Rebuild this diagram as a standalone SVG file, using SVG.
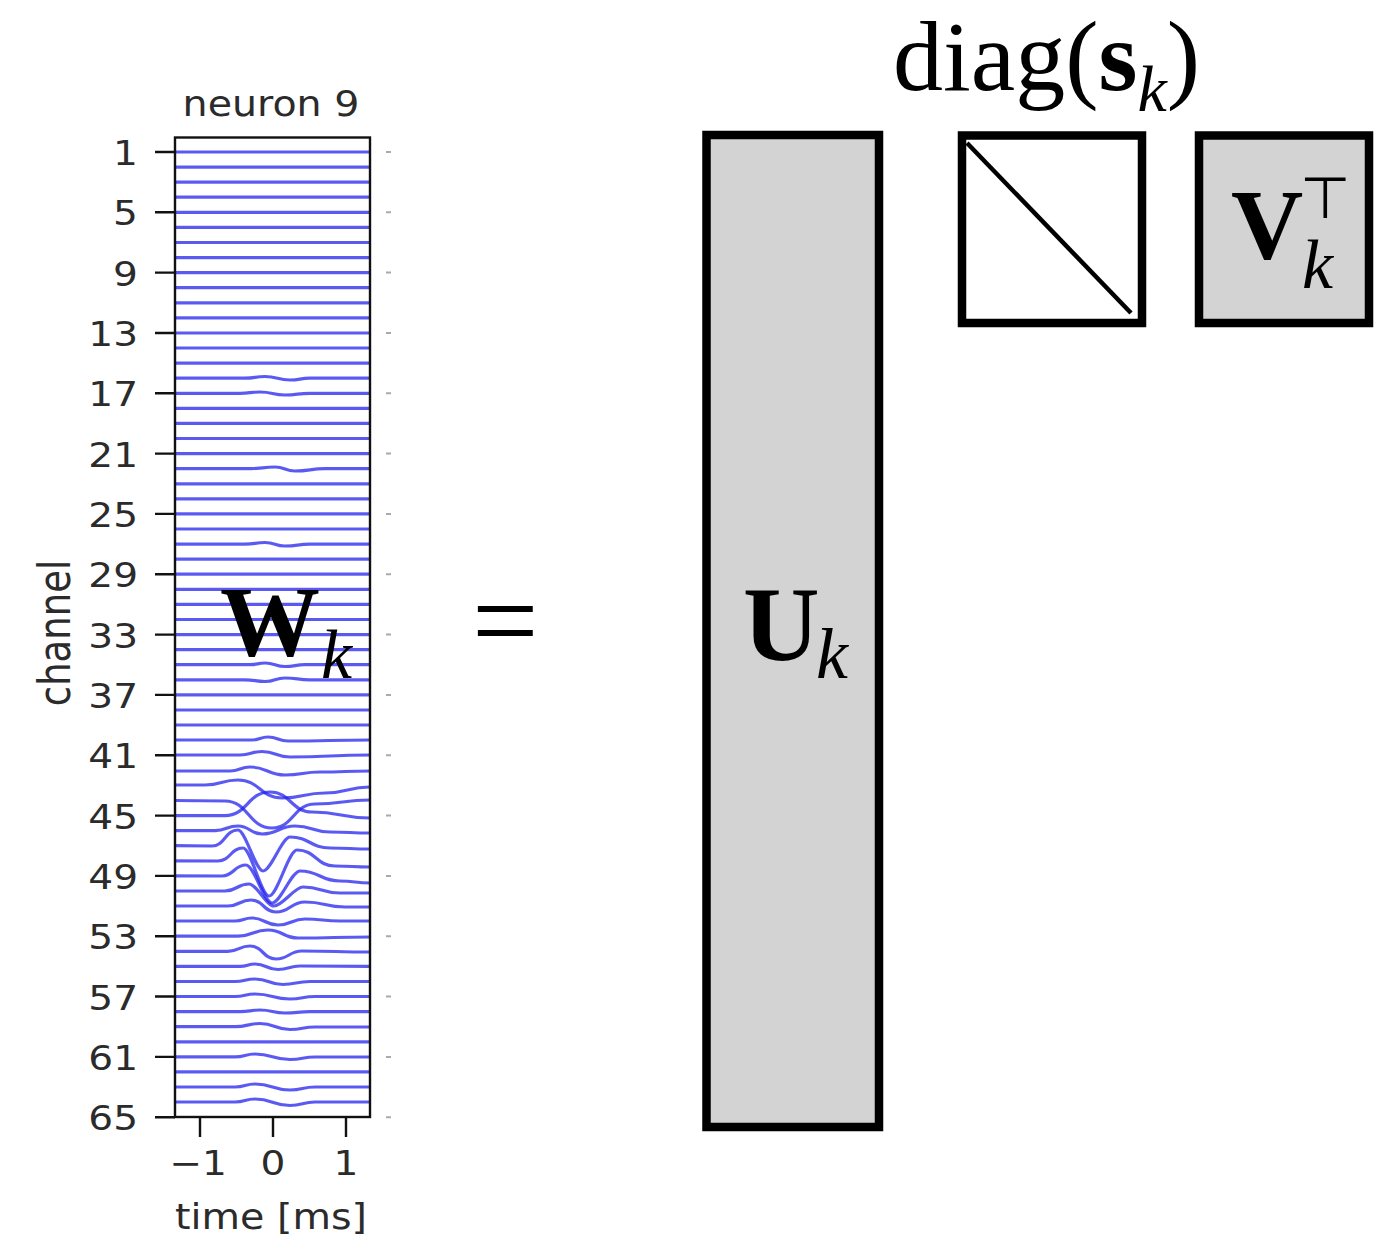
<svg xmlns="http://www.w3.org/2000/svg" width="1384" height="1238" viewBox="0 0 1384 1238">
<defs>
<filter id="soft" x="-5%" y="-5%" width="110%" height="110%"><feGaussianBlur stdDeviation="0.7"/></filter>
</defs>
<style>
.tr{fill:none;stroke:#1f1fee;stroke-width:3.2;stroke-opacity:.72;stroke-linejoin:round}
.tk{font-family:"DejaVu Sans",sans-serif;font-size:34px;fill:#2b2b2b}
.lb{font-family:"DejaVu Sans",sans-serif;font-size:35px;fill:#2b2b2b}
.ax{stroke:#111;stroke-width:2.4;fill:none}
.rt{stroke:#aaa;stroke-width:2}
.m{font-family:"Liberation Serif","Times New Roman",serif;fill:#000}
.b{font-weight:bold}
.i{font-style:italic}
.box{stroke:#000;stroke-width:8.5}
</style>
<rect width="1384" height="1238" fill="#fff"/>
<g id="plot">
<g id="traces" class="tr" filter="url(#soft)">
<path d="M175,152H370M175,167.1H370M175,182.2H370M175,197.2H370M175,212.3H370M175,227.4H370M175,242.5H370M175,257.6H370M175,272.6H370M175,287.7H370M175,302.8H370M175,317.9H370M175,333H370M175,348H370M175,363.1H370"/>
<path d="M175,378.2 L245,378.2 C255,378.2 255,376.5 265,376.5 C277.5,376.5 277.5,380 290,380 C300,380 300,378.2 310,378.2 L370,378.2"/>
<path d="M175,393.3 L240,393.3 C250,393.3 250,392 260,392 C272.5,392 272.5,395 285,395 C297.5,395 297.5,393.3 310,393.3 L370,393.3"/>
<path d="M175,408.4H370M175,423.4H370M175,438.5H370M175,453.6H370"/>
<path d="M175,468.7 L250,468.7 C262.5,468.7 262.5,467 275,467 C285,467 285,471 295,471 C310,471 310,468.7 325,468.7 L370,468.7"/>
<path d="M175,483.8H370M175,498.8H370M175,513.9H370M175,529H370"/>
<path d="M175,544.1 L245,544.1 C255,544.1 255,542.5 265,542.5 C275,542.5 275,546 285,546 C297.5,546 297.5,544.1 310,544.1 L370,544.1"/>
<path d="M175,559.2H370M175,574.2H370M175,589.3H370M175,604.4H370M175,619.5H370M175,634.6H370M175,649.6H370"/>
<path d="M175,664.7 L250,664.7 C257.5,664.7 257.5,663 265,663 C275,663 275,666.5 285,666.5 C295,666.5 295,664.7 305,664.7 L370,664.7"/>
<path d="M175,679.8 L245,679.8 C255,679.8 255,681.5 265,681.5 C275,681.5 275,678 285,678 C297.5,678 297.5,679.8 310,679.8 L370,679.8"/>
<path d="M175,694.9H370M175,710H370M175,725H370"/>
<path d="M175,740 L252,740 C260,740 260,737 268,737 C278,737 278,741 288,741 C329,741 329,740 370,740"/>
<path d="M175,755 L240,755 C251,755 251,751.5 262,751.5 C276,751.5 276,757 290,757 C330,757 330,755 370,755"/>
<path d="M175,771 L230,771 C240,771 240,767 250,767 C267.5,767 267.5,775 285,775 C302.5,775 302.5,772 320,772 C345,772 345,771 370,771"/>
<path d="M175,785 L205,785 C221.5,785 221.5,780 238,780 C260,780 260,798 282,798 C303.5,798 303.5,793 325,793 C347.5,793 347.5,787 370,787"/>
<path d="M175,800.5 L225,801 C248.5,801 248.5,828 272,828 C293.5,828 293.5,804 315,804 C342.5,804 342.5,800 370,800"/>
<path d="M175,815.6 L225,815.6 C247.5,815.6 247.5,792 270,792 C291,792 291,812 312,812 C341,812 341,818 370,818"/>
<path d="M175,830.6 L215,830.6 C226.5,830.6 226.5,826 238,826 C250,826 250,834 262,834 C278.5,834 278.5,826 295,826 C312.5,826 312.5,832 330,832 C350,832 350,833 370,833"/>
<path d="M175,845.7 L212,846 C225,846 225,830 238,830 C245.5,830 255.5,871 263,871 C271,871 282,837 290,837 C310,837 310,848 330,848 C350,848 350,849 370,849"/>
<path d="M175,860.8 L218,861 C230.5,861 230.5,848 243,848 C251,848 261,896 269,896 C277.5,896 288.5,850 297,850 C316,850 316,866 335,866 C352.5,866 352.5,867 370,867"/>
<path d="M175,875.9 L222,876 C234,876 234,865 246,865 C254,865 264,903 272,903 C280.5,903 291.5,871 300,871 C320,871 320,881 340,881 C355,881 355,883 370,883"/>
<path d="M175,891 L225,891 C237,891 237,884 249,884 C256.5,884 266.5,906 274,906 C282.5,906 294.5,887 303,887 C321.5,887 321.5,893 340,893 L370,893"/>
<path d="M175,906 L228,906 C239.5,906 239.5,900 251,900 C263.5,900 263.5,912 276,912 C290.5,912 290.5,902 305,902 C325,902 325,907 345,907 L370,907"/>
<path d="M175,921 L235,921 C243.5,921 243.5,918 252,918 C265,918 265,925 278,925 C291.5,925 291.5,919 305,919 C322.5,919 322.5,921 340,921 L370,921"/>
<path d="M175,936.2 L238,936.2 C253,936.2 253,930 268,930 C283,930 283,938 298,938 C334,938 334,937 370,937"/>
<path d="M175,951.3 L228,951.3 C239,951.3 239,946 250,946 C263,946 263,959 276,959 C289,959 289,951 302,951 C336,951 336,952 370,952"/>
<path d="M175,966.4 L240,966.4 C247.5,966.4 247.5,964 255,964 C266.5,964 266.5,969.5 278,969.5 C289,969.5 289,966 300,966 L370,966.4"/>
<path d="M175,981.5 L235,981.5 C245,981.5 245,979 255,979 C269,979 269,984.5 283,984.5 C296,984.5 296,981.5 310,981.5 L370,981.5"/>
<path d="M175,996.5 L235,996.5 C245,996.5 245,994 255,994 C272.5,994 272.5,999 290,999 C302.5,999 302.5,996.5 315,996.5 L370,996.5"/>
<path d="M175,1011.6 L240,1011.6 C250,1011.6 250,1010 260,1010 C272.5,1010 272.5,1013 285,1013 C297.5,1013 297.5,1011.6 310,1011.6 L370,1011.6"/>
<path d="M175,1026.7 L235,1026.7 C247.5,1026.7 247.5,1023.5 260,1023.5 C275,1023.5 275,1029.5 290,1029.5 C302.5,1029.5 302.5,1027 315,1027 L370,1027"/>
<path d="M175,1041.8H370"/>
<path d="M175,1056.9 L235,1056.9 C245,1056.9 245,1054 255,1054 C272.5,1054 272.5,1059.5 290,1059.5 C302.5,1059.5 302.5,1057 315,1057 L370,1057"/>
<path d="M175,1071.9H370"/>
<path d="M175,1087 L235,1087 C245,1087 245,1084 255,1084 C272.5,1084 272.5,1090 290,1090 C302.5,1090 302.5,1087 315,1087 L370,1087"/>
<path d="M175,1102 L235,1102 C245,1102 245,1099 255,1099 C272.5,1099 272.5,1105.5 290,1105.5 C302.5,1105.5 302.5,1102 315,1102 L370,1102"/>
</g>
<rect class="ax" x="175" y="137.5" width="195" height="979.5"/>
<path class="ax" d="M155,152H175M155,212.3H175M155,272.6H175M155,333H175M155,393.3H175M155,453.6H175M155,513.9H175M155,574.2H175M155,634.6H175M155,694.9H175M155,755.2H175M155,815.6H175M155,875.9H175M155,936.2H175M155,996.5H175M155,1056.9H175M155,1117.2H175M200,1117V1137M273,1117V1137M346,1117V1137"/>
<path class="rt" d="M386,152H391M386,212.3H391M386,272.6H391M386,333H391M386,393.3H391M386,453.6H391M386,513.9H391M386,574.2H391M386,634.6H391M386,694.9H391M386,755.2H391M386,815.6H391M386,875.9H391M386,936.2H391M386,996.5H391M386,1056.9H391M386,1117.2H391"/>
<g class="tk" text-anchor="end">
<text transform="translate(138,165) scale(1.15,1)">1</text>
<text transform="translate(138,225.3) scale(1.15,1)">5</text>
<text transform="translate(138,285.6) scale(1.15,1)">9</text>
<text transform="translate(138,346) scale(1.15,1)">13</text>
<text transform="translate(138,406.3) scale(1.15,1)">17</text>
<text transform="translate(138,466.6) scale(1.15,1)">21</text>
<text transform="translate(138,526.9) scale(1.15,1)">25</text>
<text transform="translate(138,587.2) scale(1.15,1)">29</text>
<text transform="translate(138,647.6) scale(1.15,1)">33</text>
<text transform="translate(138,707.9) scale(1.15,1)">37</text>
<text transform="translate(138,768.2) scale(1.15,1)">41</text>
<text transform="translate(138,828.6) scale(1.15,1)">45</text>
<text transform="translate(138,888.9) scale(1.15,1)">49</text>
<text transform="translate(138,949.2) scale(1.15,1)">53</text>
<text transform="translate(138,1009.5) scale(1.15,1)">57</text>
<text transform="translate(138,1069.9) scale(1.15,1)">61</text>
<text transform="translate(138,1130.2) scale(1.15,1)">65</text>
</g>
<g class="tk" text-anchor="middle">
<text transform="translate(198,1175) scale(1.15,1)">−1</text>
<text transform="translate(273,1175) scale(1.15,1)">0</text>
<text transform="translate(346,1175) scale(1.15,1)">1</text>
</g>
<text class="lb" text-anchor="middle" transform="translate(271,116) scale(1.13,1)">neuron 9</text>
<text class="lb" text-anchor="middle" transform="translate(271,1229) scale(1.13,1)">time [ms]</text>
<text class="lb" text-anchor="middle" transform="translate(70,633) scale(1.18,1) rotate(-90)" style="font-size:37px">channel</text>
</g>
<g id="W">
<text class="m b" x="220" y="655" font-size="100">W</text>
<text class="m i" x="321" y="678" font-size="70">k</text>
</g>
<g id="equals">
<text class="m" x="472" y="661" font-size="118">=</text>
</g>
<g id="U">
<rect class="box" x="706.5" y="135" width="172.5" height="992" fill="#d3d3d3"/>
<text class="m b" x="743" y="660" font-size="106">U</text>
<text class="m i" x="816" y="678" font-size="72">k</text>
</g>
<g id="S">
<text class="m" x="893" y="90" font-size="100">diag(<tspan class="b">s</tspan><tspan class="i" font-size="66" dy="21">k</tspan><tspan dy="-21">)</tspan></text>
<rect class="box" x="962" y="135.5" width="180" height="187.5" fill="#fff"/>
<line x1="967" y1="143" x2="1131" y2="313" stroke="#000" stroke-width="4.5"/>
</g>
<g id="V">
<rect class="box" x="1199" y="135.5" width="170" height="187.5" fill="#d3d3d3"/>
<text class="m b" x="1231" y="258" font-size="100">V</text>
<text x="1300" y="218" font-size="58" font-family="'DejaVu Sans',sans-serif">⊤</text>
<text class="m i" x="1302" y="288" font-size="70">k</text>
</g>
<g id="connectors"/>
</svg>
